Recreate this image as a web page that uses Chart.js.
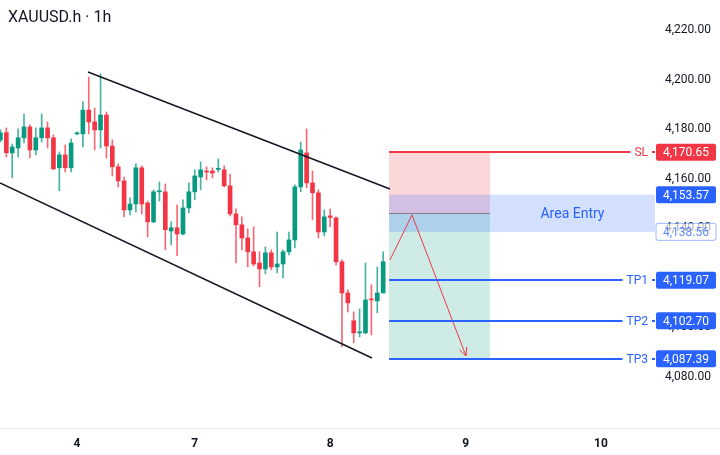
<!DOCTYPE html>
<html><head><meta charset="utf-8">
<script src="https://cdn.jsdelivr.net/npm/chart.js@4.4.1/dist/chart.umd.min.js"></script>
<style>html,body{margin:0;padding:0;background:#fff;}#wrap{width:720px;height:455px;position:relative;}</style>
</head><body><div id="wrap"><canvas id="c" width="720" height="455"></canvas></div>
<script>
const chartTitle = 'XAUUSD.h · 1h';
const opens = [4175.6,4178.6,4170.4,4172.4,4176.5,4180.9,4171.6,4176.5,4180.5,4176.5,4164.4,4169.6,4164.4,4178.1,4178.1,4187.7,4182.9,4179.7,4185.7,4173.2,4164.8,4159.1,4147.4,4149.8,4164.4,4150.2,4142.6,4154.7,4154.7,4138.9,4140.2,4137.7,4148.2,4154.7,4160.7,4163.1,4163.1,4163.75,4163.6,4157.1,4145.8,4141.4,4136.1,4130.5,4126.0,4123.6,4130.1,4124.4,4125.6,4130.5,4135.3,4156.7,4170.4,4158.3,4154.3,4138.5,4145.0,4144.2,4126.5,4113.9,4102.7,4097.8,4097.8,4111.5,4110.7,4113.9];
const highs = [4179.7,4180.5,4174.0,4180.1,4186.1,4181.7,4180.5,4186.1,4182.9,4177.7,4170.8,4173.6,4176.1,4178.9,4191.0,4201.0,4188.5,4202.3,4186.9,4175.7,4166.0,4160.7,4152.3,4166.0,4165.2,4151.0,4155.5,4158.7,4157.9,4142.6,4149.4,4151.5,4158.3,4163.6,4166.8,4164.8,4164.4,4168.0,4165.2,4161.9,4147.8,4144.6,4139.8,4140.6,4130.5,4132.5,4131.3,4138.5,4131.3,4138.5,4157.5,4174.8,4180.1,4163.1,4155.5,4147.4,4147.8,4144.6,4127.3,4115.2,4106.3,4107.5,4126.0,4117.2,4124.4,4130.5];
const lows = [4174.8,4168.8,4160.3,4168.8,4174.4,4168.4,4169.6,4174.8,4172.4,4163.6,4155.1,4162.7,4162.7,4177.7,4172.8,4178.1,4171.6,4172.4,4168.4,4161.1,4156.7,4144.6,4145.4,4146.6,4145.8,4136.5,4142.2,4151.0,4131.3,4133.3,4128.9,4137.3,4146.2,4151.5,4155.5,4159.5,4160.3,4162.7,4156.7,4145.0,4126.0,4131.3,4124.4,4124.8,4116.4,4121.6,4123.2,4122.0,4120.0,4129.3,4132.1,4154.7,4156.3,4143.4,4136.1,4136.9,4140.6,4125.2,4092.2,4106.3,4093.8,4096.2,4097.4,4097.0,4105.9,4113.9];
const closes = [4178.5,4170.5,4172.8,4176.5,4180.9,4171.6,4176.5,4180.5,4176.5,4164.0,4169.6,4164.4,4174.4,4178.5,4187.7,4182.9,4179.7,4185.7,4173.2,4164.8,4159.1,4147.4,4149.8,4164.4,4149.8,4142.6,4154.7,4155.1,4139.4,4140.2,4137.7,4148.2,4154.7,4161.1,4163.6,4162.7,4162.3,4164.2,4157.1,4145.8,4141.4,4136.1,4130.5,4125.6,4123.6,4130.1,4124.4,4125.6,4130.5,4135.3,4156.7,4171.6,4158.3,4154.3,4138.5,4144.6,4144.4,4126.5,4113.9,4109.9,4097.8,4098.2,4111.1,4111.1,4113.9,4126.5];
const dayTickIndex = [13, 33, 56, 79, 102];
const dayTickLabels = ['4', '7', '8', '9', '10'];
const priceTicks = [4080, 4100, 4120, 4140, 4160, 4180, 4200, 4220];
const upperChannel = [{x: 14.87, y: 4203.06}, {x: 66.16, y: 4155.85}];
const lowerChannel = [{x: -0.08, y: 4158.27}, {x: 63.1, y: 4087.67}];
const arrowPath = [{x: 66.16, y: 4127.2}, {x: 69.9, y: 4145.4}, {x: 79.07, y: 4088.5}];
const levelNames = ['SL', 'TP1', 'TP2', 'TP3'];
const levelValues = [4170.65, 4119.07, 4102.70, 4087.39];
const entryValue = 4146.07;
const areaEntry = [4153.57, 4138.56];
const areaLabel = 'Area Entry';
const positionRange = [66.0, 83.14];

const GREEN = '#089981', RED = '#f23645', BLUE = '#2962ff', TEXT = '#131722';
const idx = opens.map((_, i) => i);
const isUp = i => closes[i] >= opens[i];
const fmt = v => Number(v).toLocaleString('en-US', {minimumFractionDigits: 2, maximumFractionDigits: 2});

function roundRect(ctx, x, y, w, h, r) {
  ctx.beginPath();
  ctx.moveTo(x + r, y); ctx.lineTo(x + w - r, y); ctx.quadraticCurveTo(x + w, y, x + w, y + r);
  ctx.lineTo(x + w, y + h - r); ctx.quadraticCurveTo(x + w, y + h, x + w - r, y + h);
  ctx.lineTo(x + r, y + h); ctx.quadraticCurveTo(x, y + h, x, y + h - r);
  ctx.lineTo(x, y + r); ctx.quadraticCurveTo(x, y, x + r, y); ctx.closePath();
}

const overlay = {
  id: 'overlay',
  beforeDatasetsDraw(chart) {
    const {ctx, chartArea: a, scales: {x, y}} = chart;
    const xs = x.getPixelForValue(positionRange[0]), xe = x.getPixelForValue(positionRange[1]);
    const ySL = y.getPixelForValue(levelValues[0]), yE = y.getPixelForValue(entryValue), yT = y.getPixelForValue(levelValues[3]);
    ctx.save();
    ctx.fillStyle = 'rgba(242,54,69,0.2)';
    ctx.fillRect(xs, ySL, xe - xs, yE - ySL);
    ctx.fillStyle = 'rgba(8,153,129,0.2)';
    ctx.fillRect(xs, yE, xe - xs, yT - yE);
    const yA0 = y.getPixelForValue(areaEntry[0]), yA1 = y.getPixelForValue(areaEntry[1]);
    ctx.fillStyle = 'rgba(41,98,255,0.2)';
    ctx.fillRect(xs, yA0, a.right - xs, yA1 - yA0);
    ctx.strokeStyle = '#8a7a86'; ctx.lineWidth = 1;
    ctx.beginPath(); ctx.moveTo(xs, Math.round(yE) + 0.5); ctx.lineTo(xe, Math.round(yE) + 0.5); ctx.stroke();
    ctx.fillStyle = BLUE; ctx.font = '14px Roboto'; ctx.textAlign = 'center'; ctx.textBaseline = 'middle';
    ctx.fillText(areaLabel, (xe + a.right) / 2, (yA0 + yA1) / 2 + 1);
    ctx.restore();
  },
  afterDraw(chart) {
    const {ctx, chartArea: a, scales: {x, y}} = chart;
    const xs = x.getPixelForValue(positionRange[0]);
    ctx.save();
    ctx.strokeStyle = '#e0e3eb'; ctx.lineWidth = 1;
    ctx.beginPath(); ctx.moveTo(0, a.bottom + 0.5); ctx.lineTo(720, a.bottom + 0.5); ctx.stroke();
    const meta = chart.getDatasetMeta(2);
    const p1 = meta.data[meta.data.length - 2], p2 = meta.data[meta.data.length - 1];
    const ang = Math.atan2(p2.y - p1.y, p2.x - p1.x);
    ctx.strokeStyle = RED; ctx.lineWidth = 1;
    ctx.beginPath();
    ctx.moveTo(p2.x - 9 * Math.cos(ang - 0.45), p2.y - 9 * Math.sin(ang - 0.45));
    ctx.lineTo(p2.x, p2.y);
    ctx.lineTo(p2.x - 9 * Math.cos(ang + 0.45), p2.y - 9 * Math.sin(ang + 0.45));
    ctx.stroke();
    ctx.font = '12px Roboto'; ctx.textBaseline = 'middle';
    const boxX = a.right + 1, boxW = 60, boxH = 17;
    levelNames.forEach((name, k) => {
      const yy = Math.round(y.getPixelForValue(levelValues[k]));
      const col = k === 0 ? RED : BLUE;
      ctx.strokeStyle = col; ctx.lineWidth = 2;
      ctx.beginPath(); ctx.moveTo(xs, yy); ctx.lineTo(a.right, yy); ctx.stroke();
      const w = ctx.measureText(name).width;
      ctx.fillStyle = '#fff';
      ctx.fillRect(a.right - 7 - w - 4, yy - 7, w + 8, 14);
      ctx.fillStyle = col; ctx.textAlign = 'right';
      ctx.fillText(name, a.right - 7, yy + 1);
    });
    const boxes = [
      {v: levelValues[0], fill: RED, text: '#fff'},
      {v: areaEntry[0], fill: BLUE, text: '#fff'},
      {v: areaEntry[1], fill: 'rgba(255,255,255,0.65)', text: 'rgba(41,98,255,0.75)', border: 'rgba(41,98,255,0.45)'},
      {v: levelValues[1], fill: BLUE, text: '#fff'},
      {v: levelValues[2], fill: BLUE, text: '#fff'},
      {v: levelValues[3], fill: BLUE, text: '#fff'}
    ];
    boxes.forEach(b => {
      const yy = y.getPixelForValue(b.v);
      roundRect(ctx, boxX, yy - boxH / 2, boxW, boxH, 2);
      ctx.fillStyle = b.fill; ctx.fill();
      if (b.border) { ctx.strokeStyle = b.border; ctx.lineWidth = 1; ctx.stroke(); }
      ctx.fillStyle = b.text; ctx.textAlign = 'center';
      ctx.fillText(fmt(b.v), boxX + boxW / 2, yy + 1);
    });
    ctx.fillStyle = TEXT; ctx.font = '16px Roboto'; ctx.textAlign = 'left'; ctx.textBaseline = 'middle';
    ctx.fillText(chartTitle, 8, 18);
    ctx.restore();
  }
};

new Chart(document.getElementById('c').getContext('2d'), {
  type: 'bar',
  data: {
    datasets: [
      {type: 'line', data: upperChannel, borderColor: '#131722', borderWidth: 1.5, pointRadius: 0, tension: 0, order: 0},
      {type: 'line', data: lowerChannel, borderColor: '#131722', borderWidth: 1.5, pointRadius: 0, tension: 0, order: 0},
      {type: 'line', data: arrowPath, borderColor: RED, borderWidth: 1, pointRadius: 0, tension: 0, order: 0},
      {data: idx.map(i => ({x: i, y: [lows[i], highs[i]]})), backgroundColor: idx.map(i => isUp(i) ? 'rgba(8,153,129,0.75)' : 'rgba(242,54,69,0.75)'), barThickness: 1, grouped: false, order: 3},
      {data: idx.map(i => ({x: i, y: [opens[i], closes[i]]})), backgroundColor: idx.map(i => isUp(i) ? GREEN : RED), barThickness: 4, minBarLength: 1, grouped: false, order: 2}
    ]
  },
  options: {
    responsive: false, animation: false, devicePixelRatio: 1,
    layout: {padding: 0},
    plugins: {legend: {display: false}, tooltip: {enabled: false}},
    scales: {
      x: {
        type: 'linear', min: -0.077, max: 111.17, offset: false,
        grid: {display: false, drawTicks: false, offset: false}, border: {display: false},
        afterFit(s) { s.height = 27; s.paddingLeft = 0; s.paddingRight = 0; },
        afterBuildTicks(s) { s.ticks = dayTickIndex.map(v => ({value: v})); },
        ticks: {autoSkip: false, maxRotation: 0, padding: 9, color: TEXT, font: {family: 'Roboto', size: 12, weight: 'bold'},
          callback: v => { const k = dayTickIndex.indexOf(v); return k >= 0 ? dayTickLabels[k] : ''; }}
      },
      y: {
        position: 'right', min: 4059.42, max: 4232.10,
        grid: {display: false, drawTicks: false}, border: {display: false},
        afterFit(s) { s.width = 65; s.paddingTop = 0; s.paddingBottom = 0; },
        afterBuildTicks(s) { s.ticks = priceTicks.map(v => ({value: v})); },
        ticks: {padding: 10, color: TEXT, font: {family: 'Roboto', size: 12}, callback: v => fmt(v)}
      }
    }
  },
  plugins: [overlay]
});
</script></body></html>
